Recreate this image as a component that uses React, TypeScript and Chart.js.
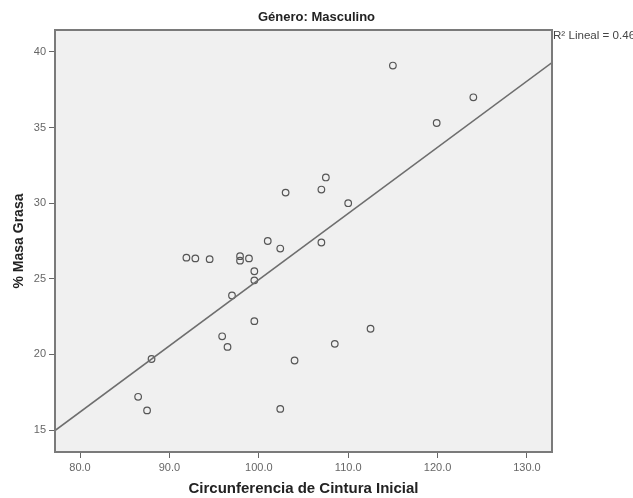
import React, { useEffect, useRef } from "react";
import { Chart, registerables } from "chart.js";

Chart.register(...registerables);

// ---- Text ----
const chartTitle = "Género: Masculino";
const xAxisTitle = "Circunferencia de Cintura Inicial";
const yAxisTitle = "% Masa Grasa";
const r2Label = "R² Lineal = 0.463";

// ---- Data ----
const cinturaInicial = [
  91.9, 92.9, 94.5, 97.9, 97.9, 98.9, 99.5, 99.5, 101.0, 102.4,
  107.0, 97.0, 99.5, 95.9, 96.5, 108.5, 104.0, 88.0, 86.5, 87.5,
  102.4, 103.0, 107.0, 107.5, 110.0, 115.0, 124.0, 119.9, 112.5,
];
const masaGrasa = [
  26.4, 26.35, 26.3, 26.5, 26.2, 26.35, 25.5, 24.9, 27.5, 27.0,
  27.4, 23.9, 22.2, 21.2, 20.5, 20.7, 19.6, 19.7, 17.2, 16.3,
  16.4, 30.7, 30.9, 31.7, 30.0, 39.1, 37.0, 35.3, 21.7,
];

const xTicks = [80, 90, 100, 110, 120, 130];
const yTicks = [15, 20, 25, 30, 35, 40];
const xRange = [77.2, 132.8];
const yRange = [13.55, 41.45];

const FONT = "'Liberation Sans', Arial, sans-serif";

function leastSquares(xs: number[], ys: number[]) {
  const n = xs.length;
  const mx = xs.reduce((a, b) => a + b, 0) / n;
  const my = ys.reduce((a, b) => a + b, 0) / n;
  let sxy = 0;
  let sxx = 0;
  for (let i = 0; i < n; i++) {
    sxy += (xs[i] - mx) * (ys[i] - my);
    sxx += (xs[i] - mx) * (xs[i] - mx);
  }
  const slope = sxy / sxx;
  return { slope, intercept: my - slope * mx };
}

const framePlugin = {
  id: "frame",
  beforeDraw(chart: any) {
    const { ctx, chartArea: a, width, height } = chart;
    ctx.save();
    ctx.fillStyle = "#ffffff";
    ctx.fillRect(0, 0, width, height);
    ctx.fillStyle = "#f0f0f0";
    ctx.fillRect(a.left, a.top, a.right - a.left, a.bottom - a.top);
    ctx.restore();
  },
  afterDatasetsDraw(chart: any) {
    const { ctx, chartArea: a, width } = chart;
    ctx.save();
    ctx.strokeStyle = "#7a7a7a";
    ctx.lineWidth = 2;
    ctx.strokeRect(a.left, a.top, a.right - a.left, a.bottom - a.top);

    ctx.fillStyle = "#222222";
    ctx.font = `bold 13px ${FONT}`;
    ctx.textAlign = "center";
    ctx.textBaseline = "middle";
    ctx.fillText(chartTitle, width / 2, 17);

    ctx.fillStyle = "#444444";
    ctx.font = `11.6px ${FONT}`;
    ctx.textAlign = "left";
    ctx.fillText(r2Label, a.right + 1, 36);
    ctx.restore();
  },
};

export default function App() {
  const ref = useRef<HTMLCanvasElement | null>(null);

  useEffect(() => {
    if (!ref.current) return;
    const fit = leastSquares(cinturaInicial, masaGrasa);
    const points = cinturaInicial.map((x, i) => ({ x, y: masaGrasa[i] }));
    const lineData = xRange.map((x) => ({ x, y: fit.intercept + fit.slope * x }));

    const chart = new Chart(ref.current, {
      type: "scatter",
      data: {
        datasets: [
          {
            type: "line",
            label: "Lineal",
            data: lineData,
            borderColor: "#6e6e6e",
            borderWidth: 1.5,
            pointRadius: 0,
            fill: false,
          } as any,
          {
            label: yAxisTitle,
            data: points,
            pointStyle: "circle",
            pointRadius: 3.3,
            pointBorderWidth: 1.2,
            borderColor: "#555555",
            backgroundColor: "rgba(0,0,0,0)",
          },
        ],
      },
      options: {
        responsive: false,
        animation: false,
        layout: { padding: { left: 0, top: 30, right: 81, bottom: 0 } },
        plugins: {
          legend: { display: false },
          tooltip: { enabled: false },
          title: { display: false },
        },
        scales: {
          x: {
            type: "linear",
            min: xRange[0],
            max: xRange[1],
            afterBuildTicks: (s: any) => {
              s.ticks = xTicks.map((v) => ({ value: v }));
            },
            afterFit: (s: any) => {
              s.height = 46;
            },
            grid: {
              drawOnChartArea: false,
              drawTicks: true,
              tickLength: 6,
              color: "#666666",
            },
            border: { display: false },
            ticks: {
              padding: 3,
              color: "#666666",
              font: { family: FONT, size: 11 },
              callback: (v: any) => Number(v).toFixed(1),
            },
            title: {
              display: true,
              text: xAxisTitle,
              color: "#222222",
              font: { family: FONT, size: 15, weight: "bold" },
              padding: { top: 0, bottom: 0 },
            },
          },
          y: {
            type: "linear",
            min: yRange[0],
            max: yRange[1],
            afterBuildTicks: (s: any) => {
              s.ticks = yTicks.map((v) => ({ value: v }));
            },
            afterFit: (s: any) => {
              s.width = 55;
            },
            grid: {
              drawOnChartArea: false,
              drawTicks: true,
              tickLength: 6,
              color: "#666666",
            },
            border: { display: false },
            ticks: {
              padding: 3,
              color: "#666666",
              font: { family: FONT, size: 11 },
              callback: (v: any) => String(v),
            },
            title: {
              display: true,
              text: yAxisTitle,
              color: "#222222",
              font: { family: FONT, size: 14, weight: "bold" },
              padding: { top: 11, bottom: 0 },
            },
          },
        },
      },
      plugins: [framePlugin],
    });
    return () => chart.destroy();
  }, []);

  return (
    <div style={{ position: "absolute", left: 0, top: 0, width: 633, height: 498 }}>
      <canvas ref={ref} width={633} height={498} style={{ display: "block" }} />
    </div>
  );
}
